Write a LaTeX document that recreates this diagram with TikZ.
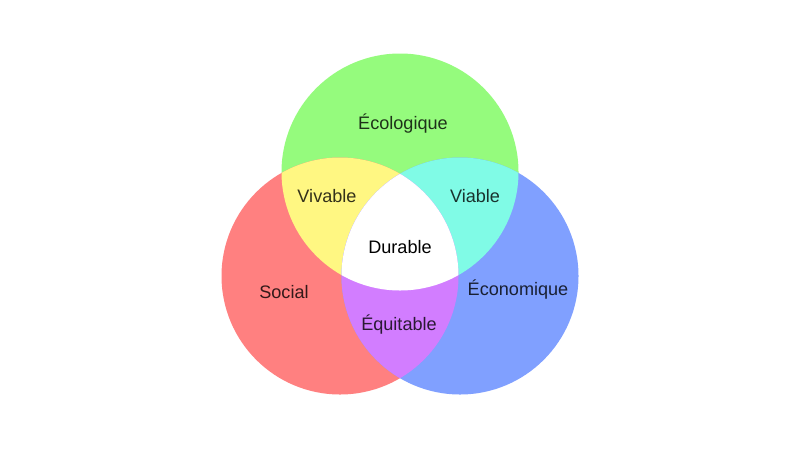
\documentclass[tikz,border=0pt]{standalone}
\usepackage{fontspec}
\setmainfont{Liberation Sans}
\usepackage{xcolor}
\definecolor{ColEco}{RGB}{149,251,125}
\definecolor{ColSoc}{RGB}{255,128,128}
\definecolor{ColEcn}{RGB}{128,160,255}
\definecolor{ColViv}{RGB}{255,247,130}
\definecolor{ColVia}{RGB}{128,251,230}
\definecolor{ColEqu}{RGB}{210,125,255}
\tikzstyle{Label}=[font=\fontsize{10.3}{12}\selectfont,inner sep=1pt]
\newcommand{\Rad}{118.5}

\begin{document}
\begin{tikzpicture}[x=0.02cm,y=-0.02cm]
    \useasboundingbox (0,0) rectangle (800,450);
    \coordinate(eco)at(400,172);
    \coordinate(soc)at(340,276);
    \coordinate(ecn)at(460,276);
    % the three circles
    \fill[ColEco](eco)circle(\Rad);
    \fill[ColSoc](soc)circle(\Rad);
    \fill[ColEcn](ecn)circle(\Rad);
    % pairwise overlaps
    \begin{scope}
        \clip(eco)circle(\Rad);
        \fill[ColViv](soc)circle(\Rad);
    \end{scope}
    \begin{scope}
        \clip(eco)circle(\Rad);
        \fill[ColVia](ecn)circle(\Rad);
    \end{scope}
    \begin{scope}
        \clip(soc)circle(\Rad);
        \fill[ColEqu](ecn)circle(\Rad);
    \end{scope}
    % centre
    \begin{scope}
        \clip(eco)circle(\Rad);
        \clip(soc)circle(\Rad);
        \fill[white](ecn)circle(\Rad);
    \end{scope}
    \node[Label,text=ColEco!20!black](ecoL)at(403,124){Écologique};
    \node[Label,text=ColViv!20!black](vivL)at(327,196){Vivable};
    \node[Label,text=ColVia!20!black](viaL)at(475,196){Viable};
    \node[Label](durL)at(400,247){Durable};
    \node[Label,text=ColSoc!20!black](socL)at(284,292){Social};
    \node[Label,text=ColEcn!20!black](ecnL)at(518,290){Économique};
    \node[Label,text=ColEqu!20!black](equL)at(399,325){Équitable};
\end{tikzpicture}
\end{document}
